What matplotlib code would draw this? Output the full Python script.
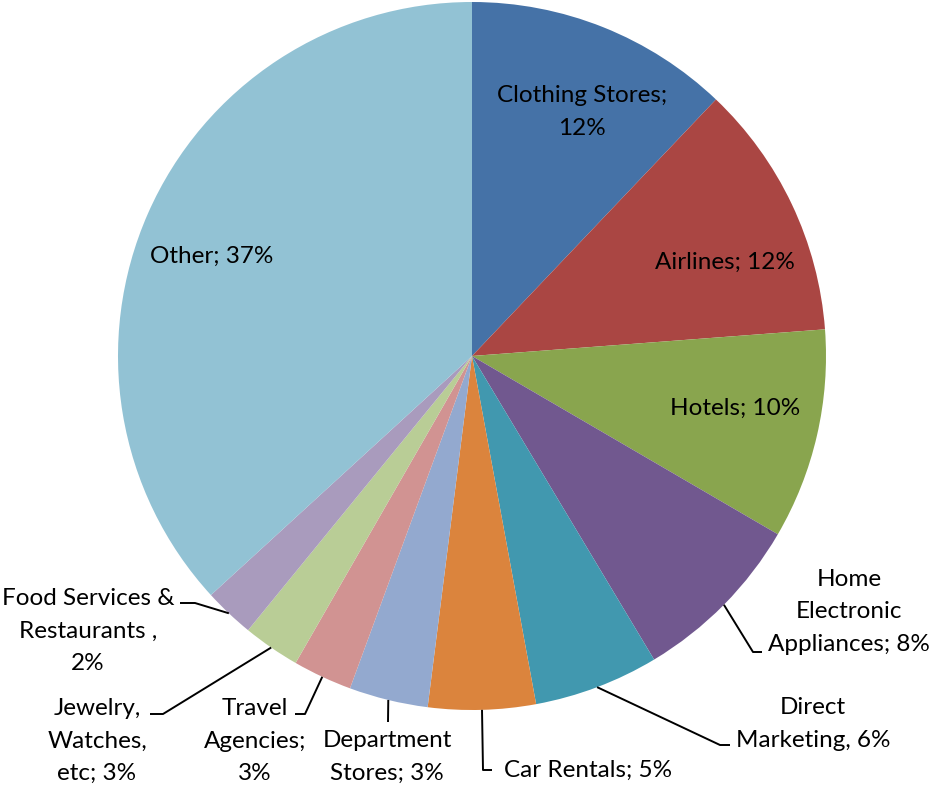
import matplotlib
matplotlib.use("Agg")
import matplotlib.pyplot as plt
import numpy as np

categories = ["Clothing Stores", "Airlines", "Hotels", "Home Electronic Appliances",
              "Direct Marketing", "Car Rentals", "Department Stores", "Travel Agencies",
              "Jewelry, Watches, etc", "Food Services & Restaurants", "Other"]
values = [12.1, 11.7, 9.6, 8.0, 5.7, 4.9, 3.6, 2.7, 2.6, 2.3, 36.8]
labels = ["Clothing Stores;\n12%", "Airlines; 12%", "Hotels; 10%",
          "Home\nElectronic\nAppliances; 8%", "Direct\nMarketing, 6%",
          "Car Rentals; 5%", "Department\nStores; 3%", "Travel\nAgencies;\n3%",
          "Jewelry,\nWatches,\netc; 3%", "Food Services &\nRestaurants ,\n2%", "Other; 37%"]
colors = ["#4572A7", "#AA4643", "#89A54E", "#71588F", "#4198AF", "#DB843D",
          "#93A9CF", "#D19392", "#B9CD96", "#A99BBD", "#92C2D4"]

W, H = 930, 787
fig = plt.figure(figsize=(9.3, 7.87), dpi=100)
ax = fig.add_axes([0, 0, 1, 1])

cx, cy, R = 472, H - 356, 354
wedges, _ = ax.pie(values, colors=colors, startangle=90, counterclock=False,
                   center=(cx, cy), radius=R, frame=True,
                   wedgeprops=dict(linewidth=0))
ax.set_xlim(0, W)
ax.set_ylim(0, H)
ax.axis("off")

FONT = dict(family="Lato", fontsize=17.5, color="black", linespacing=1.66)

def py(y):
    return H - y

# inside labels: (x, y) pixel centres
inside = {0: (582, 112), 1: (725, 262), 2: (735, 408), 10: (212, 256)}
for i, (x, y) in inside.items():
    ax.text(x, py(y), labels[i], ha="center", va="center", **FONT)

# outside labels: elbow point, end point, text anchor
outside = {
    3: [(753, 652), (762, 652), (849, 612)],
    4: [(720, 745), (730, 745), (813, 724)],
    5: [(483, 770), (492, 770), (588, 770)],
    6: [(388, 722), None, (387, 757)],
    7: [(305, 714), (295, 714), (255, 741)],
    8: [(163, 714), (150, 714), (97, 741)],
    9: [(195, 603), (180, 603), (88, 631)],
}
for i, (elbow, end, tpos) in outside.items():
    w = wedges[i]
    mid = np.deg2rad((w.theta1 + w.theta2) / 2)
    ex, ey = cx + R * np.cos(mid), cy + R * np.sin(mid)
    xs = [ex, elbow[0]]
    ys = [ey, py(elbow[1])]
    if end is not None:
        xs.append(end[0]); ys.append(py(end[1]))
    ax.plot(xs, ys, color="black", linewidth=1.4, solid_capstyle="butt")
    ax.text(tpos[0], py(tpos[1]), labels[i], ha="center", va="center", **FONT)

fig.savefig("out.png", dpi=100)
